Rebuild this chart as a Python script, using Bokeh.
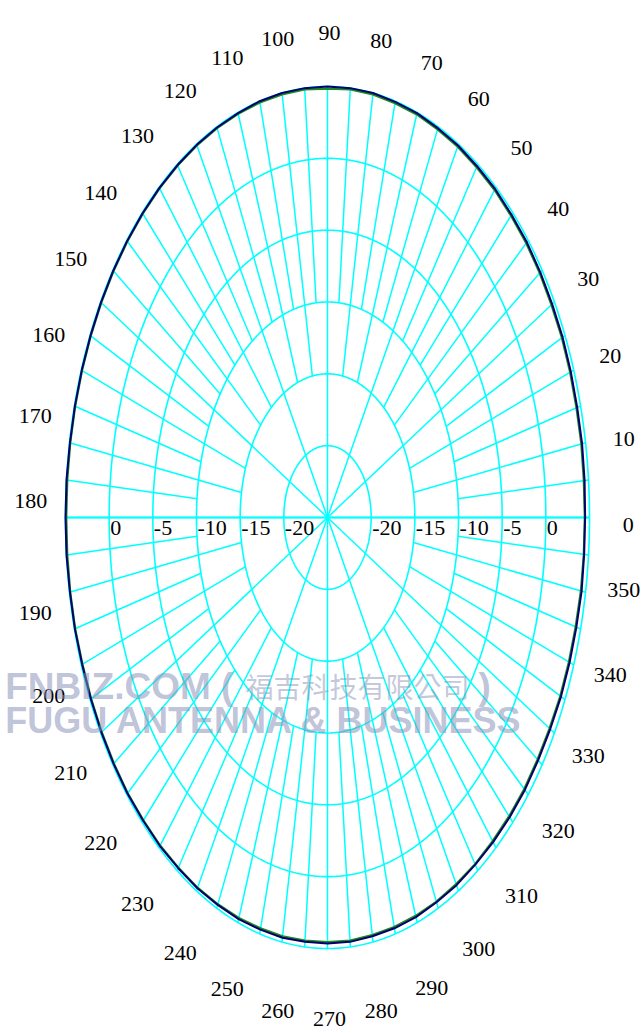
import numpy as np
from bokeh.plotting import figure
from bokeh.models import Range1d, Label
from bokeh.embed import file_html
from bokeh.resources import INLINE
from bokeh.core.properties import value

# ---------------- data ----------------
db_floor = -25                      # centre of the chart (dB)
ring_levels = [-20, -15, -10, -5, 0, 5]
ring_label_levels_left = [0, -5, -10, -15, -20]
ring_label_levels_right = [-20, -15, -10, -5, 0]
angle_labels = list(range(0, 360, 10))

pattern_angles = list(range(0, 361, 5))
pattern_navy = [4.50, 4.55, 4.60, 4.60, 4.65, 4.70, 4.70, 4.75, 4.80, 4.80, 4.85, 4.85,
                4.90, 4.90, 4.95, 4.95, 5.00, 5.00, 5.00, 5.00, 5.00, 5.00, 4.95, 4.95,
                4.95, 4.95, 4.95, 4.95, 4.95, 4.95, 4.95, 4.95, 4.95, 4.95, 4.95, 5.00,
                5.00, 5.00, 4.95, 4.95, 4.90, 4.90, 4.90, 4.90, 4.90, 4.85, 4.85, 4.80,
                4.80, 4.75, 4.75, 4.70, 4.70, 4.65, 4.65, 4.65, 4.60, 4.60, 4.60, 4.55,
                4.55, 4.50, 4.50, 4.50, 4.50, 4.45, 4.45, 4.50, 4.50, 4.50, 4.55, 4.50,
                4.50]
pattern_green = [4.45, 4.45, 4.50, 4.50, 4.55, 4.60, 4.60, 4.65, 4.70, 4.70, 4.75, 4.75,
                 4.80, 4.80, 4.85, 4.85, 4.90, 4.90, 4.85, 4.90, 4.90, 4.90, 4.90, 4.90,
                 4.90, 4.90, 4.90, 4.90, 4.90, 4.90, 4.90, 4.90, 4.90, 4.90, 4.90, 4.90,
                 4.90, 4.90, 4.90, 4.90, 4.85, 4.85, 4.85, 4.85, 4.85, 4.80, 4.80, 4.75,
                 4.75, 4.70, 4.65, 4.60, 4.60, 4.55, 4.55, 4.55, 4.50, 4.50, 4.50, 4.50,
                 4.45, 4.45, 4.40, 4.40, 4.40, 4.35, 4.35, 4.40, 4.40, 4.40, 4.45, 4.45,
                 4.45]

watermark_line1 = "FNBIZ.COM ("
watermark_cjk = "福吉科技有限公司"
watermark_line1_end = ")"
watermark_line2 = "FUGU ANTENNA & BUSINESS"

# ---------------- figure ----------------
W, H = 641, 1032
cx_px, cy_px = 327, 517           # centre of the polar chart in canvas px
sx, sy = 262 / 30.0, 431 / 30.0   # px per radial unit (x / y)

p = figure(width=W, height=H,
           x_range=Range1d(-cx_px / sx, (W - cx_px) / sx),
           y_range=Range1d(-(H - cy_px) / sy, cy_px / sy),
           output_backend="svg", toolbar_location=None,
           x_axis_location=None, y_axis_location=None, min_border=0)
p.grid.visible = False
p.outline_line_color = None
p.background_fill_color = "white"

CYAN = "#00FFFF"

# radial spokes
xs, ys = [], []
for a in range(0, 360, 5):
    if a % 30 == 0:
        r0 = 0
    elif a % 10 == 0:
        r0 = -15 - db_floor
    else:
        r0 = -10 - db_floor
    r1 = ring_levels[-1] - db_floor
    t = np.deg2rad(a)
    xs.append([r0 * np.cos(t), r1 * np.cos(t)])
    ys.append([r0 * np.sin(t), r1 * np.sin(t)])
p.multi_line(xs, ys, line_color=CYAN, line_width=1.5)
# horizontal axis a bit heavier
R = ring_levels[-1] - db_floor
p.line([-R, R], [0, 0], line_color=CYAN, line_width=2.2)

# rings
th = np.linspace(0, 2 * np.pi, 1441)
for lv in ring_levels:
    r = lv - db_floor
    p.line(r * np.cos(th), r * np.sin(th), line_color=CYAN, line_width=1.6)

# pattern traces
ang = np.deg2rad(np.array(pattern_angles, dtype=float))
rg = np.array(pattern_green) - db_floor
rn = np.array(pattern_navy) - db_floor
p.line(rg * np.cos(ang), rg * np.sin(ang), line_color="#1f8a1f", line_width=2)
p.line(rn * np.cos(ang), rn * np.sin(ang), line_color="#00006e", line_width=2)

# radial level labels along the horizontal axis
lx = [-(lv - db_floor) for lv in ring_label_levels_left] + \
     [(lv - db_floor) for lv in ring_label_levels_right]
lt = [str(lv) for lv in ring_label_levels_left] + [str(lv) for lv in ring_label_levels_right]
p.text(x=lx, y=[0] * len(lx), text=lt, text_font=value("Liberation Serif"),
       text_font_size="22px", text_color="black", text_align="left",
       text_baseline="top", x_offset=1, y_offset=3)

# angle labels (placed on an outer ellipse, nudged away from the axis like the original)
RL = 34.2
ta = np.deg2rad(np.array(angle_labels, dtype=float))
lab_x = RL * np.cos(ta)
lab_y = RL * np.sin(ta)
c = np.cos(ta)
upper = np.sin(ta) >= -1e-9
nudge_px = np.where(upper, 3 - 24 * np.clip(-c, 0, None) ** 1.5,
                    6 - 24 * np.clip(c, 0, None) ** 2.5)
lab_y = lab_y - nudge_px / sy
p.text(x=lab_x, y=lab_y, text=[str(a) for a in angle_labels],
       text_font=value("Liberation Serif"), text_font_size="22px", text_color="black",
       text_align="center", text_baseline="middle", x_offset=2, y_offset=4)

# watermark
wm_color = "#8a92b8"
p.add_layout(Label(x=-36.9, y=-11.75, text=watermark_line1, text_font="Liberation Sans",
                   text_font_style="bold", text_font_size="37px", text_color=wm_color,
                   text_alpha=0.55, text_baseline="middle"))
p.add_layout(Label(x=-9.4, y=-11.75, text=watermark_cjk, text_font="Noto Sans CJK TC",
                   text_font_size="28px", text_color=wm_color,
                   text_alpha=0.5, text_baseline="middle"))
p.add_layout(Label(x=17.3, y=-11.75, text=watermark_line1_end, text_font="Liberation Sans",
                   text_font_style="bold", text_font_size="37px", text_color=wm_color,
                   text_alpha=0.55, text_baseline="middle"))
p.add_layout(Label(x=-36.9, y=-14.1, text=watermark_line2, text_font="Liberation Sans",
                   text_font_style="bold", text_font_size="36px", text_color=wm_color,
                   text_alpha=0.55, text_baseline="middle"))

open("out.html", "w").write(file_html(p, INLINE))
